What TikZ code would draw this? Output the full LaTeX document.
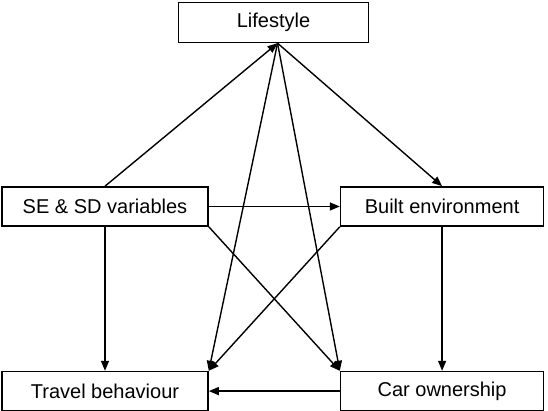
\documentclass[tikz,border=0pt]{standalone}
\usepackage{fontspec}
\setmainfont{Liberation Sans}
\usetikzlibrary{positioning, arrows.meta, calc}

\begin{document}
\begin{tikzpicture}[
  every node/.style={font=\fontsize{10}{12}\selectfont},
  box/.style={draw, rectangle, line width=0.8pt, align=center, inner sep=0pt, minimum height=19.5pt},
  arr/.style={-{Triangle[length=5pt, width=4pt]}, line width=0.7pt}
]
  \useasboundingbox (0,0) rectangle (274pt,205.5pt);

  \node[box, minimum width=103pt] (se) at (52.5pt,102.25pt) {SE \& SD variables};
  \node[box, right=65.5pt of se, minimum width=101.5pt] (built) {Built environment};
  \node[box, below=72pt of se, minimum width=103pt] (travel) {Travel behaviour};
  \node[box, right=65.5pt of travel, minimum width=101.5pt] (car) {Car ownership};

  \node[box, anchor=south, yshift=71.5pt, minimum width=95pt, minimum height=20pt] (life)
    at ($(se.north)!0.5!(built.north)$) {Lifestyle};
  \coordinate (hub) at ([xshift=2pt]life.south);

  \draw[arr] (se.north) -- (hub);
  \draw[arr] (hub) -- (built.north);
  \draw[arr] (hub) -- (travel.north east);
  \draw[arr] (hub) -- (car.north west);

  \draw[arr] (se.east) -- (built.west);
  \draw[arr] (se.south) -- (travel.north);
  \draw[arr] (se.south east) -- (car.north west);
  \draw[arr] (built.south west) -- (travel.north east);
  \draw[arr] (built.south) -- (car.north);
  \draw[arr] (car.west) -- (travel.east);
\end{tikzpicture}
\end{document}
